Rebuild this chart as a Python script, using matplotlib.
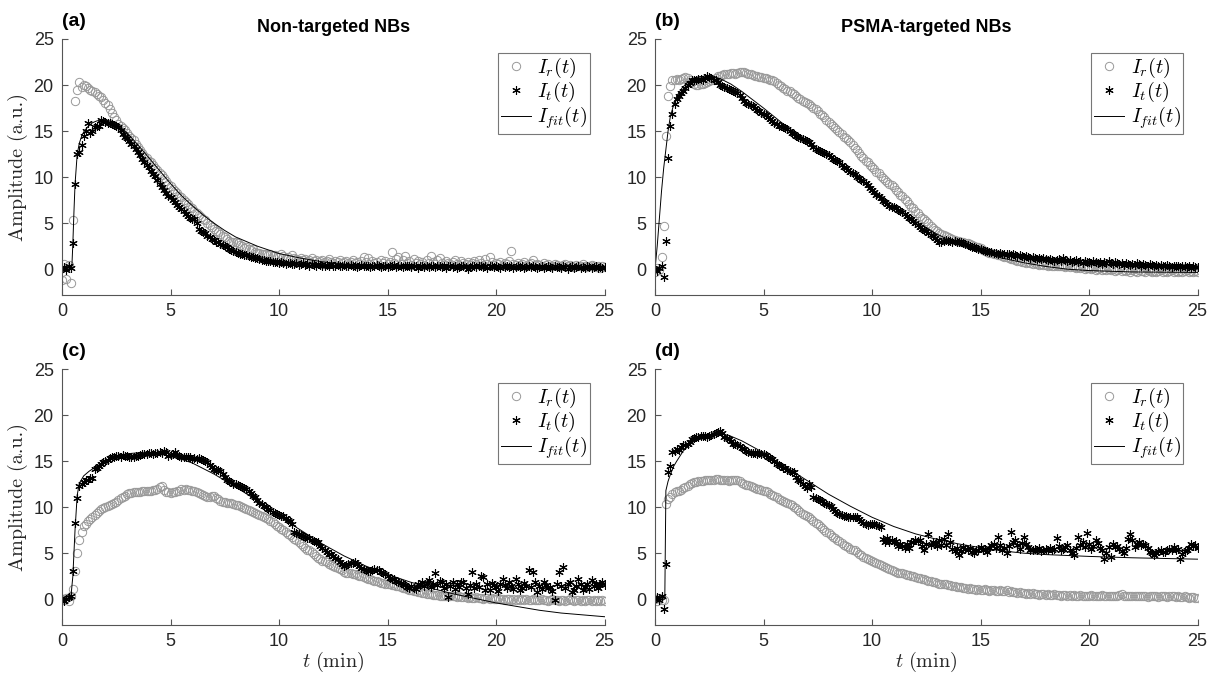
import matplotlib.pyplot as plt
import numpy as np

plt.rcParams['mathtext.fontset'] = 'cm'
plt.rcParams['font.family'] = ['Liberation Sans', 'DejaVu Sans']

# sampling grid (0.1 min)
t = np.round(np.arange(251) * 0.1, 1)

# ---- panel (a) non-targeted, set 1
a_r = [-1.2, 0.6, -1.1, 0.5, -1.5, 5.3, 18.3, 19.5, 20.3, 19.8,
       20.0, 19.9, 19.7, 19.5, 19.3, 19.2, 19.0, 18.8, 18.7, 18.4,
       18.1, 17.8, 17.4, 17.0, 16.5, 16.2, 15.8, 15.6, 15.3, 15.1,
       14.8, 14.5, 14.3, 14.0, 13.6, 13.3, 12.9, 12.6, 12.3, 12.1,
       11.8, 11.6, 11.3, 11.0, 10.8, 10.5, 10.2, 9.9, 9.6, 9.3,
       9.0, 8.7, 8.5, 8.3, 8.0, 7.8, 7.5, 7.3, 7.1, 6.8,
       6.6, 6.3, 6.1, 5.9, 5.7, 5.4, 5.3, 5.0, 4.8, 4.6,
       4.4, 4.2, 4.0, 3.8, 3.6, 3.5, 3.3, 3.1, 3.0, 2.9,
       2.9, 2.8, 2.6, 2.5, 2.3, 2.4, 2.2, 2.1, 2.2, 1.9,
       1.8, 1.8, 1.7, 1.6, 1.6, 1.5, 1.6, 1.4, 1.5, 1.3,
       1.3, 1.6, 1.4, 1.2, 1.3, 1.1, 1.5, 1.2, 1.1, 1.0,
       1.2, 1.0, 1.1, 0.9, 1.0, 1.2, 0.9, 1.0, 0.8, 0.9,
       1.0, 0.8, 0.9, 1.1, 0.8, 0.7, 0.9, 0.8, 1.0, 0.7,
       0.8, 0.9, 0.7, 0.8, 1.0, 0.7, 0.8, 0.6, 0.9, 1.3,
       0.8, 1.2, 0.6, 0.9, 0.7, 0.8, 0.5, 1.0, 0.7, 0.9,
       0.6, 0.8, 1.9, 0.7, 1.1, 1.3, 0.6, 1.0, 1.4, 0.7,
       0.9, 0.5, 1.1, 0.7, 0.9, 0.6, 0.8, 0.5, 1.0, 0.7,
       1.4, 0.8, 0.6, 1.0, 1.2, 0.7, 0.5, 0.9, 0.7, 0.6,
       0.8, 1.0, 0.6, 0.5, 0.9, 0.7, 0.6, 0.8, 0.5, 0.7,
       0.9, 0.6, 1.0, 0.7, 0.5, 1.1, 0.6, 1.3, 0.8, 0.5,
       0.7, 0.6, 0.8, 0.5, 0.7, 0.6, 0.9, 2.0, 0.6, 0.5,
       0.7, 0.5, 0.6, 0.8, 0.4, 0.6, 0.7, 1.0, 0.5, 0.6,
       0.5, 0.4, 0.7, 0.5, 0.6, 0.4, 0.3, 0.6, 0.5, 0.4,
       0.3, 0.5, 0.6, 0.4, 0.5, 0.3, 0.2, 0.5, 0.3, 0.4,
       0.6, 0.3, 0.2, 0.4, 0.5, 0.3, 0.2, 0.4, 0.1, 0.3,
       0.2]
a_t = [0.0, 0.2, -0.1, 0.3, 0.1, 2.8, 9.2, 12.5, 12.7, 13.5,
       14.5, 15.0, 15.9, 14.8, 15.0, 15.4, 15.6, 15.5, 16.2, 16.1,
       16.0, 15.9, 15.9, 15.8, 15.7, 15.5, 15.4, 15.1, 14.7, 14.4,
       14.2, 13.9, 13.6, 13.4, 13.0, 12.7, 12.4, 12.0, 11.6, 11.3,
       11.1, 10.7, 10.3, 10.1, 9.7, 9.2, 8.9, 8.6, 8.3, 8.0,
       7.8, 7.5, 7.3, 7.0, 6.7, 6.5, 6.3, 6.0, 5.8, 5.6,
       5.5, 5.4, 5.0, 4.4, 4.2, 4.0, 3.9, 3.6, 3.5, 3.3,
       3.2, 3.0, 2.9, 2.7, 2.6, 2.5, 2.4, 2.2, 2.1, 2.0,
       1.9, 1.8, 1.7, 1.6, 1.5, 1.5, 1.4, 1.3, 1.3, 1.2,
       1.2, 1.1, 1.0, 1.0, 0.9, 0.9, 0.9, 0.8, 0.8, 0.8,
       0.7, 0.8, 0.7, 0.6, 0.7, 0.7, 0.6, 0.6, 0.7, 0.5,
       0.6, 0.7, 0.5, 0.6, 0.4, 0.6, 0.5, 0.4, 0.6, 0.5,
       0.4, 0.3, 0.5, 0.4, 0.6, 0.4, 0.3, 0.5, 0.4, 0.4,
       0.5, 0.3, 0.4, 0.5, 0.3, 0.4, 0.2, 0.4, 0.5, 0.3,
       0.4, 0.3, 0.2, 0.4, 0.3, 0.5, 0.3, 0.2, 0.4, 0.3,
       0.2, 0.4, 0.3, 0.5, 0.2, 0.3, 0.4, 0.2, 0.3, 0.4,
       0.3, 0.2, 0.4, 0.3, 0.1, 0.3, 0.4, 0.2, 0.3, 0.2,
       0.4, 0.3, 0.2, 0.3, 0.4, 0.2, 0.3, 0.1, 0.3, 0.4,
       0.2, 0.3, 0.1, 0.2, 0.4, 0.3, 0.2, 0.0, 0.2, 0.3,
       0.3, 0.2, 0.4, 0.3, 0.2, 0.3, 0.1, 0.3, 0.4, 0.2,
       0.3, 0.2, 0.1, 0.3, 0.2, 0.4, 0.2, 0.3, 0.1, 0.2,
       0.3, 0.2, 0.3, 0.1, 0.2, 0.3, 0.2, 0.4, 0.2, 0.1,
       0.2, 0.3, 0.1, 0.2, 0.3, 0.2, 0.1, 0.3, 0.2, 0.2,
       0.1, 0.3, 0.2, 0.0, 0.2, 0.3, 0.1, 0.2, 0.3, 0.1,
       0.2, 0.1, 0.3, 0.2, 0.1, 0.2, 0.3, 0.1, 0.2, 0.1,
       0.2]
a_fit_t = [0, 0.45, 0.5, 0.55, 0.6, 0.7, 0.8, 0.9, 1.0, 1.2, 1.4, 1.6, 1.8, 2.0,
           2.3, 2.6, 3.0, 3.5, 4.0, 4.5, 5.0, 5.5, 6.0, 6.5, 7.0, 7.5, 8.0, 8.5,
           9.0, 10, 11, 12, 13, 14, 15, 17, 19, 21, 23, 25]
a_fit = [0, 0, 2.8, 6.2, 9.2, 12.5, 13.7, 14.4, 14.9, 15.5, 15.9, 16.1, 16.2, 16.2,
         16.0, 15.6, 14.8, 13.5, 12.1, 10.7, 9.3, 8.0, 6.9, 5.9, 5.0, 4.2, 3.5, 3.0,
         2.5, 1.7, 1.2, 0.8, 0.55, 0.4, 0.3, 0.2, 0.15, 0.1, 0.08, 0.06]

# ---- panel (b) PSMA-targeted, set 1
b_r = [-0.3, 0.1, -0.1, 1.3, 4.7, 14.5, 18.8, 19.9, 20.5, 20.6,
       20.7, 20.6, 20.7, 20.8, 20.9, 20.8, 20.5, 20.3, 20.1, 20.0,
       20.0, 20.1, 20.1, 20.2, 20.3, 20.4, 20.5, 20.6, 20.8, 21.0,
       21.0, 21.1, 21.2, 21.2, 21.2, 21.3, 21.3, 21.2, 21.3, 21.4,
       21.4, 21.4, 21.3, 21.2, 21.2, 21.1, 21.0, 21.0, 20.9, 20.9,
       20.8, 20.8, 20.7, 20.6, 20.5, 20.4, 20.2, 20.0, 19.9, 19.7,
       19.6, 19.4, 19.3, 19.1, 19.0, 18.8, 18.6, 18.5, 18.3, 18.2,
       18.0, 17.9, 17.7, 17.5, 17.4, 17.2, 16.9, 16.7, 16.5, 16.2,
       16.0, 15.8, 15.6, 15.3, 15.1, 14.9, 14.7, 14.4, 14.2, 14.0,
       13.8, 13.5, 13.2, 12.9, 12.6, 12.3, 12.1, 11.8, 11.6, 11.3,
       11.1, 10.9, 10.6, 10.4, 10.1, 9.9, 9.7, 9.5, 9.3, 9.1,
       8.9, 8.6, 8.4, 8.1, 7.9, 7.6, 7.4, 7.1, 6.8, 6.6,
       6.3, 6.1, 5.8, 5.6, 5.4, 5.2, 5.0, 4.7, 4.5, 4.3,
       4.1, 3.9, 3.8, 3.7, 3.6, 3.5, 3.4, 3.3, 3.2, 3.1,
       3.1, 3.0, 2.9, 2.8, 2.8, 2.7, 2.6, 2.5, 2.4, 2.4,
       2.3, 2.1, 2.0, 1.9, 1.8, 1.8, 1.7, 1.6, 1.5, 1.5,
       1.4, 1.3, 1.3, 1.2, 1.1, 1.1, 1.0, 0.9, 0.9, 0.8,
       0.8, 0.7, 0.8, 0.7, 0.6, 0.7, 0.6, 0.5, 0.6, 0.5,
       0.5, 0.4, 0.5, 0.4, 0.3, 0.4, 0.3, 0.3, 0.4, 0.2,
       0.3, 0.2, 0.3, 0.2, 0.1, 0.2, 0.1, 0.2, 0.0, 0.1,
       0.1, 0.0, 0.1, -0.1, 0.0, 0.1, -0.1, 0.0, -0.1, 0.0,
       -0.1, 0.0, -0.2, -0.1, 0.0, -0.2, -0.1, -0.2, -0.1, -0.3,
       -0.1, -0.2, -0.3, -0.1, -0.2, -0.2, -0.3, -0.1, -0.2, -0.3,
       -0.2, -0.3, -0.2, -0.1, -0.3, -0.2, -0.3, -0.2, -0.1, -0.3,
       -0.2, -0.3, -0.2, -0.3, -0.2, -0.1, -0.3, -0.2, -0.3, -0.2,
       -0.3]
b_t = [0.0, -0.2, 0.1, 0.4, -0.8, 3.1, 12.1, 15.6, 16.8, 17.9,
       18.5, 18.8, 19.1, 19.4, 19.7, 20.0, 20.2, 20.5, 20.6, 20.6,
       20.7, 20.7, 20.6, 20.8, 21.0, 20.9, 20.8, 20.6, 20.5, 20.3,
       20.0, 19.9, 19.8, 19.7, 19.6, 19.5, 19.3, 19.2, 19.1, 18.9,
       18.6, 18.3, 18.1, 17.9, 17.8, 17.7, 17.5, 17.3, 17.2, 17.0,
       16.8, 16.7, 16.5, 16.3, 16.1, 15.9, 15.8, 15.6, 15.5, 15.4,
       15.3, 15.2, 15.0, 14.8, 14.7, 14.5, 14.4, 14.3, 14.1, 14.0,
       13.9, 13.8, 13.6, 13.3, 13.1, 12.9, 12.8, 12.7, 12.6, 12.5,
       12.4, 12.2, 12.0, 11.9, 11.8, 11.6, 11.3, 11.1, 11.0, 10.8,
       10.6, 10.5, 10.3, 10.0, 9.9, 9.7, 9.6, 9.4, 9.1, 8.8,
       8.6, 8.4, 8.1, 7.9, 7.7, 7.4, 7.3, 7.1, 6.9, 6.8,
       6.7, 6.6, 6.4, 6.3, 6.2, 6.0, 5.8, 5.6, 5.4, 5.2,
       5.0, 4.8, 4.6, 4.4, 4.3, 4.1, 3.9, 3.7, 3.6, 3.4,
       3.2, 3.0, 2.9, 3.1, 3.2, 3.1, 3.1, 3.0, 3.1, 3.0,
       3.0, 2.9, 2.8, 2.7, 2.6, 2.5, 2.4, 2.4, 2.3, 2.2,
       2.2, 2.1, 2.0, 2.0, 1.9, 1.9, 1.8, 1.8, 1.7, 1.8,
       1.7, 1.7, 1.6, 1.6, 1.5, 1.6, 1.5, 1.4, 1.5, 1.4,
       1.3, 1.4, 1.3, 1.2, 1.3, 1.2, 1.1, 1.2, 1.1, 1.2,
       1.1, 1.0, 1.1, 1.0, 0.9, 1.0, 1.1, 0.9, 1.2, 1.0,
       0.9, 1.0, 0.8, 0.9, 1.0, 0.8, 0.9, 0.7, 0.9, 0.8,
       0.8, 0.7, 0.9, 0.8, 0.7, 0.8, 0.6, 0.8, 0.7, 0.9,
       0.7, 0.6, 0.8, 0.7, 0.6, 0.7, 0.5, 0.7, 0.6, 0.5,
       0.6, 0.5, 0.7, 0.6, 0.4, 0.6, 0.5, 0.4, 0.6, 0.5,
       0.4, 0.5, 0.3, 0.5, 0.4, 0.3, 0.5, 0.4, 0.2, 0.4,
       0.3, 0.4, 0.2, 0.3, 0.4, 0.2, 0.3, 0.1, 0.3, 0.2,
       0.2]
b_fit_t = [0, 0.1, 0.2, 0.3, 0.4, 0.5, 0.6, 0.7, 0.85, 1.0, 1.25, 1.5, 2.0, 2.5,
           3.0, 3.5, 4.0, 4.5, 5.0, 6.0, 7.0, 8.0, 9.0, 10, 11, 12, 13, 14, 15,
           16, 17, 18, 19, 20, 22, 25]
b_fit = [0, 2.5, 5.5, 8.5, 11.0, 13.0, 15.0, 16.5, 17.8, 18.8, 19.7, 20.3, 20.9, 21.0,
         20.7, 20.1, 19.3, 18.4, 17.5, 15.6, 13.9, 12.3, 10.6, 8.7, 6.9, 5.2, 3.8, 2.7, 1.9,
         1.2, 0.7, 0.3, 0.0, -0.15, -0.3, -0.35]

# ---- panel (c) non-targeted, set 2
c_r = [0.0, -0.1, 0.1, -0.2, 0.3, 1.1, 3.1, 5.0, 6.4, 7.3,
       8.0, 8.2, 8.5, 8.7, 8.9, 9.2, 9.4, 9.6, 9.8, 9.9,
       10.0, 10.1, 10.2, 10.3, 10.5, 10.6, 10.8, 11.0, 11.1, 11.2,
       11.4, 11.5, 11.5, 11.6, 11.6, 11.6, 11.6, 11.7, 11.7, 11.8,
       11.8, 11.8, 11.9, 11.9, 12.0, 12.2, 12.3, 11.9, 11.6, 11.6,
       11.5, 11.6, 11.6, 11.7, 11.8, 11.95, 11.9, 11.95, 11.9, 11.9,
       11.8, 11.8, 11.6, 11.5, 11.4, 11.3, 11.2, 11.05, 11.1, 11.2,
       11.2, 11.0, 10.9, 10.7, 10.6, 10.6, 10.5, 10.4, 10.4, 10.3,
       10.2, 10.2, 10.1, 10.0, 9.9, 9.8, 9.7, 9.6, 9.5, 9.4,
       9.3, 9.2, 9.05, 8.9, 8.8, 8.7, 8.5, 8.4, 8.15, 8.0,
       7.8, 7.6, 7.5, 7.3, 7.1, 7.0, 6.8, 6.5, 6.4, 6.2,
       6.0, 5.8, 5.6, 5.4, 5.3, 5.1, 4.9, 4.7, 4.5, 4.35,
       4.2, 4.1, 4.0, 3.8, 3.7, 3.6, 3.5, 3.4, 3.3, 3.2,
       3.0, 2.9, 2.8, 2.8, 2.7, 2.7, 2.6, 2.5, 2.5, 2.4,
       2.3, 2.2, 2.2, 2.1, 2.0, 2.0, 1.9, 1.8, 1.8, 1.7,
       1.6, 1.6, 1.5, 1.5, 1.4, 1.4, 1.3, 1.2, 1.2, 1.1,
       1.0, 1.0, 0.9, 0.9, 0.8, 0.8, 0.7, 0.7, 0.6, 0.6,
       0.6, 0.5, 0.5, 0.5, 0.4, 0.4, 0.4, 0.3, 0.4, 0.3,
       0.3, 0.3, 0.2, 0.3, 0.2, 0.2, 0.2, 0.1, 0.2, 0.1,
       0.1, 0.2, 0.1, 0.1, 0.0, 0.1, 0.1, 0.0, 0.1, 0.0,
       0.0, 0.1, 0.0, 0.0, -0.1, 0.0, 0.0, -0.1, 0.0, -0.1,
       0.0, -0.1, 0.0, -0.1, 0.0, -0.1, -0.1, 0.0, -0.1, -0.1,
       -0.1, 0.0, -0.1, -0.1, -0.2, -0.1, 0.0, -0.1, -0.1, -0.2,
       -0.1, -0.1, -0.2, -0.1, 0.0, -0.1, -0.2, -0.1, -0.1, -0.2,
       -0.1, -0.2, -0.1, -0.1, -0.2, -0.1, -0.2, -0.1, -0.2, -0.1,
       -0.2]
c_t = [0.1, -0.2, 0.0, 0.2, 0.3, 3.1, 8.3, 11.0, 12.3, 12.5,
       12.7, 12.9, 13.0, 13.2, 13.2, 14.1, 14.3, 14.5, 14.7, 14.9,
       15.0, 15.1, 15.3, 15.4, 15.5, 15.6, 15.6, 15.5, 15.7, 15.6,
       15.6, 15.5, 15.4, 15.5, 15.6, 15.6, 15.7, 15.8, 15.8, 15.8,
       15.9, 15.9, 15.8, 15.9, 15.9, 16.0, 15.9, 16.1, 16.0, 15.6,
       15.7, 15.8, 16.0, 15.7, 15.6, 15.5, 15.5, 15.4, 15.5, 15.4,
       15.2, 15.3, 15.2, 15.3, 15.2, 15.1, 15.0, 14.85, 14.6, 14.4,
       14.1, 14.0, 14.0, 13.9, 13.6, 13.3, 13.0, 12.8, 12.7, 12.5,
       12.5, 12.4, 12.3, 12.2, 12.1, 11.95, 11.8, 11.5, 11.2, 11.05,
       10.8, 10.5, 10.3, 10.1, 10.0, 9.8, 9.7, 9.5, 9.4, 9.3,
       9.2, 9.05, 9.0, 8.8, 8.6, 8.5, 8.2, 7.3, 7.2, 7.1,
       7.0, 6.9, 6.8, 6.7, 6.6, 6.4, 6.3, 6.2, 6.2, 5.8,
       5.6, 5.3, 5.1, 4.9, 4.9, 4.7, 4.5, 4.35, 4.0, 3.8,
       3.6, 3.7, 3.8, 3.9, 3.9, 4.0, 3.8, 3.6, 3.4, 3.3,
       3.2, 3.1, 3.1, 3.2, 3.3, 3.2, 3.15, 3.0, 2.8, 2.7,
       2.5, 2.35, 2.25, 2.2, 2.0, 1.9, 1.8, 1.6, 1.5, 1.3,
       1.2, 1.4, 1.2, 1.16, 1.6, 1.5, 1.9, 1.4, 1.8, 2.1,
       1.3, 1.6, 2.8, 1.5, 2.0, 1.9, 1.2, 1.6, 0.25, 1.4,
       1.9, 1.1, 1.6, 1.3, 1.9, 1.9, 1.2, 0.6, 1.5, 3.0,
       1.2, 1.6, 1.3, 2.5, 2.4, 1.0, 1.7, 1.0, 1.8, 1.5,
       1.3, 0.9, 1.7, 2.25, 1.5, 1.2, 1.9, 1.4, 1.1, 2.25,
       1.6, 1.0, 1.2, 1.8, 1.4, 3.15, 1.3, 3.0, 1.9, 0.8,
       1.4, 1.1, 1.9, 1.5, 1.2, 1.3, 0.9, -0.1, 1.7, 3.0,
       1.4, 3.5, 1.2, 1.6, 1.9, 0.8, 1.0, 1.4, 2.25, 1.7,
       1.0, 1.3, 1.6, 1.1, 2.1, 1.4, 1.7, 1.2, 1.6, 1.9,
       1.5]
c_fit_t = [0, 0.4, 0.5, 0.6, 0.7, 0.8, 1.0, 1.25, 1.5, 2.0, 2.5, 3.0, 3.5, 4.0,
           4.5, 5.0, 5.5, 6.0, 7.0, 8.0, 9.0, 10, 11, 12, 13, 14, 15, 16, 17, 18,
           19, 20, 21, 22, 23, 24, 25]
c_fit = [0, 0, 2.5, 7.5, 11.3, 12.6, 13.4, 13.9, 14.3, 15.0, 15.5, 15.8, 15.9, 15.9,
         15.8, 15.5, 15.2, 14.8, 13.6, 12.2, 10.7, 9.0, 7.5, 6.0, 4.7, 3.6, 2.7, 1.9, 1.2, 0.6,
         0.1, -0.4, -0.8, -1.2, -1.5, -1.7, -1.9]

# ---- panel (d) PSMA-targeted, set 2
d_r = [0.0, -0.2, 0.1, -0.1, -0.1, 10.3, 10.9, 11.1, 11.4, 11.6,
       11.8, 11.8, 11.9, 12.1, 12.2, 12.3, 12.5, 12.6, 12.7, 12.7,
       12.8, 12.8, 12.85, 12.9, 12.9, 13.0, 13.0, 13.0, 13.1, 13.1,
       13.0, 13.0, 12.9, 12.9, 12.85, 12.9, 12.9, 13.0, 12.9, 12.8,
       12.6, 12.5, 12.4, 12.4, 12.3, 12.2, 12.1, 12.0, 11.95, 11.9,
       11.8, 11.7, 11.6, 11.4, 11.3, 11.2, 11.05, 10.9, 10.8, 10.7,
       10.6, 10.5, 10.3, 10.2, 10.0, 9.9, 9.7, 9.5, 9.3, 9.2,
       9.0, 8.9, 8.7, 8.5, 8.3, 8.15, 8.0, 7.7, 7.5, 7.3,
       7.2, 7.0, 6.8, 6.6, 6.4, 6.3, 6.1, 5.9, 5.8, 5.7,
       5.5, 5.4, 5.3, 5.1, 4.9, 4.8, 4.6, 4.5, 4.4, 4.3,
       4.1, 4.0, 3.9, 3.8, 3.7, 3.6, 3.5, 3.4, 3.3, 3.2,
       3.1, 3.0, 2.9, 2.8, 2.8, 2.7, 2.6, 2.6, 2.5, 2.5,
       2.4, 2.3, 2.3, 2.2, 2.2, 2.1, 2.0, 2.0, 1.9, 1.9,
       1.8, 1.7, 1.7, 1.6, 1.6, 1.5, 1.5, 1.4, 1.4, 1.3,
       1.3, 1.3, 1.2, 1.2, 1.1, 1.2, 1.1, 1.1, 1.0, 1.1,
       1.0, 1.0, 1.1, 1.0, 0.9, 1.0, 1.0, 0.9, 0.9, 1.0,
       0.9, 0.9, 1.0, 0.8, 0.9, 0.8, 0.8, 0.7, 0.8, 0.7,
       0.7, 0.6, 0.7, 0.6, 0.7, 0.6, 0.6, 0.5, 0.6, 0.6,
       0.5, 0.6, 0.5, 0.5, 0.6, 0.5, 0.5, 0.4, 0.5, 0.5,
       0.4, 0.5, 0.4, 0.5, 0.4, 0.4, 0.5, 0.4, 0.4, 0.3,
       0.4, 0.5, 0.4, 0.4, 0.3, 0.4, 0.5, 0.4, 0.4, 0.3,
       0.4, 0.4, 0.3, 0.4, 0.5, 0.6, 0.4, 0.3, 0.4, 0.3,
       0.4, 0.3, 0.4, 0.3, 0.3, 0.4, 0.3, 0.2, 0.3, 0.4,
       0.3, 0.3, 0.2, 0.3, 0.4, 0.3, 0.2, 0.3, 0.4, 0.3,
       0.2, 0.3, 0.2, 0.2, 0.3, 0.2, 0.1, 0.2, 0.2, 0.1,
       0.1]
d_t = [0.0, 0.2, -0.1, 0.4, -1.1, 3.8, 13.8, 14.5, 16.0, 16.1,
       16.3, 16.2, 16.5, 16.7, 16.8, 16.9, 17.1, 17.4, 17.5, 17.6,
       17.6, 17.7, 17.75, 17.7, 17.6, 17.7, 17.8, 17.9, 18.1, 18.2,
       18.3, 18.0, 17.6, 17.5, 17.4, 17.2, 16.9, 16.85, 16.7, 16.6,
       16.4, 16.3, 16.1, 16.0, 15.9, 15.9, 15.9, 15.8, 15.9, 15.8,
       15.8, 15.7, 15.5, 15.3, 15.2, 15.0, 14.7, 14.6, 14.5, 14.3,
       14.2, 14.0, 13.9, 13.8, 13.8, 13.3, 13.0, 12.8, 12.5, 12.3,
       12.1, 12.5, 12.2, 11.05, 11.0, 10.9, 10.8, 10.7, 10.5, 10.3,
       10.2, 10.1, 9.8, 9.6, 9.4, 9.3, 9.1, 9.05, 9.0, 8.9,
       8.9, 8.95, 8.9, 8.9, 8.7, 8.5, 8.3, 8.2, 8.1, 8.15,
       8.2, 8.15, 8.1, 8.0, 7.8, 6.5, 6.2, 6.7, 6.2, 6.4,
       6.2, 6.3, 5.8, 6.0, 5.8, 5.6, 6.05, 5.6, 6.2, 6.2,
       6.4, 6.3, 6.4, 5.8, 5.3, 6.0, 7.1, 5.9, 6.2, 6.0,
       5.8, 6.4, 5.9, 6.5, 5.9, 7.1, 6.2, 5.5, 5.2, 5.6,
       4.8, 5.2, 5.7, 5.5, 5.3, 5.6, 5.1, 5.0, 5.4, 5.3,
       5.7, 5.4, 5.5, 5.15, 5.6, 5.9, 6.0, 5.6, 6.8, 5.9,
       5.3, 5.6, 5.0, 5.8, 7.3, 6.2, 6.4, 5.9, 5.5, 6.1,
       6.8, 6.0, 5.7, 5.3, 5.4, 5.5, 5.3, 5.6, 5.2, 5.4,
       5.5, 5.3, 5.6, 5.4, 5.5, 6.7, 5.8, 5.3, 5.5, 5.7,
       5.9, 5.4, 5.0, 4.8, 5.6, 6.8, 5.9, 6.2, 5.7, 7.2,
       6.0, 5.5, 5.8, 6.4, 6.1, 5.6, 5.3, 4.4, 5.0, 5.7,
       4.6, 6.05, 5.7, 5.8, 5.5, 5.2, 5.0, 5.6, 6.5, 7.1,
       6.4, 5.7, 6.0, 6.2, 5.9, 6.0, 5.9, 5.6, 5.15, 5.0,
       4.8, 5.0, 5.2, 5.3, 5.1, 5.15, 5.4, 5.5, 5.3, 5.7,
       5.4, 5.5, 4.4, 4.9, 5.2, 5.3, 5.6, 6.05, 5.8, 5.9,
       5.6]
d_fit_t = [0, 0.45, 0.5, 0.6, 0.7, 0.85, 1.0, 1.3, 1.7, 2.2, 2.8, 3.4, 4.0, 4.7,
           5.3, 6, 7, 8, 9, 10, 11, 12, 13, 14, 15, 16, 17, 18, 19, 20, 22, 25]
d_fit = [0, 0, 11.8, 12.8, 13.5, 14.4, 15.0, 16.1, 17.0, 17.7, 18.0, 17.8, 17.2, 16.3,
         15.4, 14.4, 12.9, 11.4, 10.1, 8.9, 7.9, 7.1, 6.5, 6.0, 5.6, 5.25, 5.0, 4.85,
         4.75, 4.65, 4.5, 4.35]

panels = [
    ("(a)", "Non-targeted NBs", a_r, a_t, a_fit_t, a_fit),
    ("(b)", "PSMA-targeted NBs", b_r, b_t, b_fit_t, b_fit),
    ("(c)", "", c_r, c_t, c_fit_t, c_fit),
    ("(d)", "", d_r, d_t, d_fit_t, d_fit),
]

fig = plt.figure(figsize=(12.11, 6.77), dpi=100)
lefts = [0.0512, 0.5409]
bottoms = [0.5643, 0.0768]
star = (6, 2, 0)

for i, (lab, title, yr, yt, ft, fv) in enumerate(panels):
    ax = fig.add_axes([lefts[i % 2], bottoms[i // 2], 0.448, 0.3781])
    ax.plot(t, yr, 'o', ls='none', ms=6.0, mfc='none', mec='#999999', mew=0.7, label=r'$I_r(t)$')
    ax.plot(t, yt, marker=star, ls='none', ms=6.0, color='black', mew=0.8, label=r'$I_t(t)$')
    ax.plot(ft, fv, '-', color='black', lw=0.7, label=r'$I_{fit}(t)$')
    ax.set_xlim(0, 25)
    ax.set_ylim(-2.8, 25)
    ax.set_xticks([0, 5, 10, 15, 20, 25])
    ax.set_yticks([0, 5, 10, 15, 20, 25])
    for s in ['top', 'right']:
        ax.spines[s].set_visible(False)
    for s in ['left', 'bottom']:
        ax.spines[s].set_color('#555555')
        ax.spines[s].set_linewidth(0.8)
    ax.tick_params(direction='in', length=4, width=0.8, color='#555555',
                   labelsize=13, labelcolor='#262626', pad=6)
    if i % 2 == 0:
        ax.set_ylabel('Amplitude (a.u.)', family='cmr10', fontsize=14.5,
                      color='#262626', labelpad=4)
    if i // 2 == 1:
        ax.set_xlabel(r'$t\ \mathrm{(min)}$', fontsize=14.5, color='#262626', labelpad=0)
    if title:
        ax.set_title(title, fontsize=13, fontweight='bold', pad=5)
    ax.text(0.0, 1.07, lab, transform=ax.transAxes, fontsize=14, fontweight='bold',
            ha='left', va='center')
    leg = ax.legend(loc='upper right', fontsize=14.5, frameon=True, fancybox=False,
                    borderaxespad=0.7, handlelength=1.5, handletextpad=0.3,
                    borderpad=0.15, labelspacing=0.0)
    leg.get_frame().set_edgecolor('#555555')
    leg.get_frame().set_linewidth(0.8)

fig.savefig('out.png', dpi=100)
